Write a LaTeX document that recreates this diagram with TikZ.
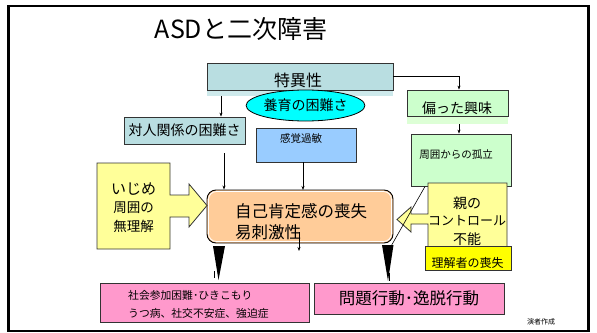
\documentclass[tikz,border=0pt]{standalone}
\usepackage{fontspec}
\setmainfont{Noto Sans CJK JP}
\usetikzlibrary{arrows.meta,shapes.geometric}
\definecolor{tealA}{HTML}{B9DEE1}
\definecolor{tealB}{HTML}{CDE9EB}
\definecolor{greenA}{HTML}{CCFFCC}
\definecolor{greenB}{HTML}{DDFFD6}
\definecolor{blueA}{HTML}{99CCFF}
\definecolor{peach}{HTML}{FFCC99}
\definecolor{ylight}{HTML}{FFFF99}
\definecolor{yfull}{HTML}{FFFF00}
\definecolor{pinkA}{HTML}{FF99CC}
\definecolor{cyanA}{HTML}{00FFFF}
\definecolor{edge}{HTML}{333333}
\newcommand\fsz[2]{\fontsize{#1}{#2}\selectfont}
\begin{document}
\begin{tikzpicture}[x=1pt,y=-1pt,
  bx/.style={draw=edge, line width=0.8pt, inner sep=0pt},
  txt/.style={inner sep=0pt, text=black},
  arr/.style={draw=black, line width=0.6pt, -{Stealth[length=4pt,width=3pt]}},
  ln/.style={draw=black, line width=0.6pt},
  wedge/.style={fill=black}]
\useasboundingbox (0,0) rectangle (597,332);
\fill[white] (0,0) rectangle (597,332);
\draw[line width=2.2pt] (8.5,6) rectangle (588.5,331);

\node[txt, font=\fsz{25}{28}] (title) at (241,29) {ASDと二次障害};

% 特異性
\fill[tealB] (207,90) rectangle (393,96);
\node[bx, fill=tealA, minimum width=186, minimum height=27] (tok) at (300,76.5) {};
\node[txt, font=\fsz{16}{18}] (toktxt) at (298,80) {特異性};

% 養育の困難さ
\node[ellipse, draw=black, line width=0.8pt, fill=cyanA, minimum width=101, minimum height=31, inner sep=0pt, font=\fsz{14}{16}] (yoiku) at (305.5,105.5) {養育の困難さ};

% 偏った興味
\fill[greenB] (407,116) rectangle (508,124);
\node[bx, fill=greenA, minimum width=101, minimum height=26] (hen) at (457.5,103) {};
\node[txt, font=\fsz{14}{16}] (hentxt) at (457,108) {偏った興味};

% 周囲からの孤立
\node[bx, fill=greenA, minimum width=100, minimum height=52] (koritsu) at (461,160) {};
\node[txt, font=\fsz{10.5}{12}] (korittxt) at (456,155) {周囲からの孤立};

% 対人関係の困難さ
\node[bx, fill=tealA, minimum width=121, minimum height=27, font=\fsz{14}{16}] (taijin) at (184.5,130.5) {対人関係の困難さ};

% 感覚過敏
\node[bx, fill=blueA, minimum width=100, minimum height=34] (kankaku) at (306,145) {};
\node[txt, font=\fsz{10.5}{12}] (kantxt) at (301,138) {感覚過敏};

% 自己肯定感の喪失
\node[draw=black, line width=0.9pt, fill=peach, rounded corners=9pt, minimum width=186, minimum height=53, inner sep=0pt] (jiko) at (300,216.5) {};
\draw[white, line width=0.8pt, rounded corners=8pt] (208.5,191.5) rectangle (391.5,241.5);
\node[txt, anchor=north west, align=left, font=\fsz{16.5}{21}] (jikotxt) at (235,203) {自己肯定感の喪失\\易刺激性};

% いじめ callout
\draw[draw=edge, line width=0.8pt, fill=ylight] (97,163) -- (170,163) -- (170,195) -- (189,195) -- (189,184) -- (207,205.5) -- (189,227) -- (189,217) -- (170,217) -- (170,249) -- (97,249) -- cycle;
\node[txt, font=\fsz{15}{17}] (ijime) at (133.5,189) {いじめ};
\node[txt, font=\fsz{13.5}{15}] (shui) at (133.5,208) {周囲の};
\node[txt, font=\fsz{13.5}{15}] (murikai) at (133.5,226.5) {無理解};

% 親のコントロール不能 callout
\draw[draw=edge, line width=0.8pt, fill=ylight] (507,183) -- (428,183) -- (428,214) -- (411,214) -- (411,207) -- (397,219.5) -- (411,232) -- (411,224) -- (428,224) -- (428,252) -- (507,252) -- cycle;
\node[txt, font=\fsz{14}{16}] (oya) at (467,203) {親の};
\node[txt, font=\fsz{13}{15}] (control) at (467,221) {コントロール};
\node[txt, font=\fsz{14}{16}] (funo) at (467,239) {不能};

% 理解者の喪失
\node[bx, fill=yfull, minimum width=86, minimum height=24] (rikai) at (468,258) {};
\node[txt, font=\fsz{12}{14}] (rikaitxt) at (467.5,263) {理解者の喪失};

% pink boxes
\node[bx, fill=pinkA, minimum width=209, minimum height=39] (shakai) at (204.5,302.5) {};
\node[txt, anchor=north west, align=left, font=\fsz{10.8}{18}] (shakaitxt) at (128,290) {社会参加困難･ひきこもり\\うつ病、社交不安症、強迫症};
\node[bx, fill=pinkA, minimum width=190, minimum height=31, font=\fsz{16.5}{18}] (mondai) at (409,298.5) {問題行動･逸脱行動};

\node[txt, font=\fsz{7}{8}] (ensha) at (541,322) {演者作成};

% connectors
\coordinate (c1) at (221,96);
\draw[arr] (c1) -- (c1 |- taijin.north);
\coordinate (c2) at (224,153);
\draw[arr] (c2) -- (c2 |- jiko.north);
\draw[arr] (kankaku.south -| 303,0) -- (303,190);
\coordinate (c3) at (459,76.5);
\draw[arr] (tok.east) -- (c3) -- (c3 |- hen.north);
\coordinate (c4) at (459,124);
\draw[arr] (c4) -- (c4 |- koritsu.north);
\coordinate (c5) at (425,186.5);
\coordinate (c6) at (390,248);
\draw[ln] (c5) -- (c6);
\coordinate (c7) at (299,232);
\draw[arr] (c7) -- (299,251);

% black wedges
\fill[wedge] (213,246) -- (225,246) -- (218.5,280) -- cycle;
\draw[line width=0.5pt] (214,271) -- (214,278);
\fill[wedge] (382,245) -- (393.5,245) -- (388,281) -- cycle;
\draw[line width=0.5pt] (389.5,273) -- (389.5,281);
\end{tikzpicture}
\end{document}
